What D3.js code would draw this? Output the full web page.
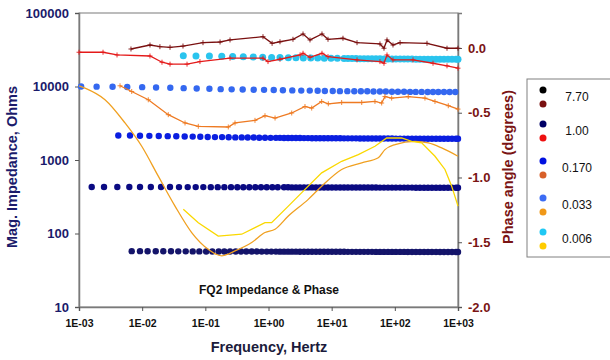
<!DOCTYPE html>
<html>
<head>
<meta charset="utf-8">
<script src="https://cdn.jsdelivr.net/npm/d3@7"></script>
<style>
  body { margin: 0; background: #fff; }
  text { font-family: Arial, "Liberation Sans", sans-serif; }
</style>
</head>
<body>
<div id="chart"></div>
<script>
// ---------------- data
var seriesNames = ["7.70", "1.00", "0.170", "0.033", "0.006"];

// magnitude (dots, left axis)
var freqMag770 = [0.00683, 0.00924, 0.0122, 0.0164, 0.0216, 0.0286, 0.0373, 0.0489, 0.0631, 0.0803, 0.103, 0.129, 0.163, 0.200, 0.246, 0.303, 0.367, 0.445, 0.542, 0.650, 0.780, 0.937, 1.11, 1.31,
  1.52, 1.76, 2.04, 2.35, 2.72, 3.15, 3.65, 4.22, 4.88, 5.65, 6.53, 7.56, 8.75, 10.1, 11.7, 13.6, 15.7, 18.1, 21.0, 24.3, 28.1, 32.5, 37.6, 43.5, 50.3, 58.2, 67.3, 78.0, 90.2, 104, 121, 140, 161, 187, 216, 250, 290, 335, 387, 449, 519, 600, 695, 804, 930, 1000];
var mag770 = [57.5, 57.5, 57.4, 57.4, 57.3, 57.3, 57.2, 57.2, 57.1, 57.1, 57.0, 57.0, 57.0, 56.9, 56.9, 56.9, 56.8, 56.8, 56.8, 56.8, 56.7, 56.7, 56.7, 56.7,
  56.6, 56.6, 56.6, 56.6, 56.6, 56.5, 56.5, 56.5, 56.5, 56.5, 56.5, 56.4, 56.4, 56.4, 56.4, 56.4, 56.4, 56.3, 56.3, 56.3, 56.3, 56.3, 56.3, 56.3, 56.2, 56.2, 56.2, 56.2, 56.2, 56.2, 56.2, 56.2, 56.1, 56.1, 56.1, 56.1, 56.1, 56.1, 56.1, 56.1, 56.0, 56.0, 56.0, 56.0, 56.0, 56.0];

var freqMag100 = [0.00159, 0.00249, 0.00404, 0.00626, 0.00924, 0.0137, 0.0199, 0.0276, 0.0383, 0.0526, 0.0704, 0.0929, 0.122, 0.157, 0.200, 0.255, 0.321, 0.399, 0.497, 0.618, 0.761, 0.937, 1.15, 1.40,
  1.76, 2.04, 2.35, 2.72, 3.15, 3.65, 4.22, 4.88, 5.65, 6.53, 7.56, 8.75, 10.1, 11.7, 13.6, 15.7, 18.1, 21.0, 24.3, 28.1, 32.5, 37.6, 43.5, 50.3, 58.2, 67.3, 78.0, 90.2, 104, 121, 140, 161, 187, 216, 250, 290, 335, 387, 449, 519, 600, 695, 804, 930, 1000];
var mag100 = [430, 430, 430, 430, 429, 429, 429, 429, 428, 428, 428, 428, 427, 427, 427, 427, 426, 426, 426, 426, 425, 425, 425, 425,
  425, 425, 424, 424, 424, 424, 424, 424, 423, 423, 423, 423, 423, 423, 423, 422, 422, 422, 422, 422, 422, 422, 422, 422, 421, 421, 421, 421, 421, 421, 421, 421, 421, 420, 420, 420, 420, 420, 420, 420, 420, 420, 420, 420, 420];

var freqMag170 = [0.00419, 0.00642, 0.00924, 0.0130, 0.0183, 0.0254, 0.0347, 0.0471, 0.0631, 0.0832, 0.109, 0.142, 0.184, 0.234, 0.298, 0.377, 0.469, 0.583, 0.715, 0.881, 1.08, 1.31,
  1.52, 1.76, 2.04, 2.35, 2.72, 3.15, 3.65, 4.22, 4.88, 5.65, 6.53, 7.56, 8.75, 10.1, 11.7, 13.6, 15.7, 18.1, 21.0, 24.3, 28.1, 32.5, 37.6, 43.5, 50.3, 58.2, 67.3, 78.0, 90.2, 104, 121, 140, 161, 187, 216, 250, 290, 335, 387, 449, 519, 600, 695, 804, 930, 1000];
var mag170 = [2150, 2150, 2140, 2130, 2120, 2110, 2100, 2090, 2080, 2070, 2060, 2050, 2050, 2040, 2030, 2030, 2020, 2020, 2010, 2010, 2000, 2000,
  2000, 1995, 1995, 1990, 1990, 1990, 1985, 1985, 1980, 1980, 1980, 1980, 1975, 1975, 1975, 1975, 1970, 1970, 1970, 1970, 1965, 1965, 1965, 1965, 1960, 1960, 1960, 1960, 1960, 1955, 1955, 1955, 1955, 1955, 1950, 1950, 1950, 1950, 1950, 1950, 1950, 1950, 1950, 1950, 1950, 1950];

var freqMag033 = [0.00108, 0.0019, 0.0034, 0.0058, 0.0100, 0.0166, 0.0279, 0.0454, 0.073, 0.116, 0.175, 0.261, 0.39, 0.583, 0.85, 1.21, 1.69, 2.38, 3.3, 4.5, 6.0, 7.8, 10.4, 13.5, 17.7, 22.8, 29, 36.6, 46, 58, 72, 90, 112, 140, 174, 214, 266, 331, 402, 488, 600, 738, 906];
var mag033 = [10000, 9950, 9900, 9850, 9800, 9700, 9600, 9500, 9400, 9300, 9200, 9150, 9100, 9050, 9000, 8950, 8900, 8850, 8800, 8800, 8750, 8700, 8700, 8650, 8650, 8600, 8600, 8600, 8550, 8550, 8550, 8500, 8500, 8500, 8450, 8450, 8450, 8400, 8400, 8400, 8400, 8400, 8400];

var freqMag006 = [0.0448, 0.0711, 0.116, 0.182, 0.271, 0.399, 0.574, 0.809, 1.12, 1.52, 2.06, 2.72, 3.56, 4.66, 6.01, 7.64, 9.76, 12.3,
  15.7, 18.1, 21.0, 24.3, 28.1, 32.5, 37.6, 43.5, 50.3, 58.2, 67.3, 78.0, 90.2, 104, 121, 140, 161, 187, 216, 250, 290, 335, 387, 449, 519, 600, 695, 804, 930, 1000];
var mag006 = [26200, 26000, 25900, 25700, 25500, 25400, 25200, 25000, 24900, 24800, 24700, 24600, 24500, 24400, 24400, 24300, 24200, 24200,
  24100, 24100, 24000, 24000, 23900, 23900, 23900, 23800, 23800, 23800, 23700, 23700, 23700, 23700, 23600, 23600, 23600, 23600, 23500, 23500, 23500, 23500, 23500, 23400, 23400, 23400, 23400, 23400, 23400, 23400];

// phase (lines, right axis)
var freqPh770 = [0.00665, 0.0133, 0.0191, 0.0276, 0.0443, 0.0918, 0.171, 0.246, 0.818, 1.14, 1.52, 2.44, 3.52, 4.54, 7.03, 8.75, 15.1, 25.2, 58.2, 67.3, 75.2, 93.5, 121, 323, 670, 1000];
var ph770 = [-0.008, 0.023, 0.010, 0.005, 0.015, 0.041, 0.046, 0.062, 0.087, 0.036, 0.048, 0.067, 0.108, 0.062, 0.108, 0.067, 0.075, 0.041, 0.031, -0.002, 0.062, 0.023, 0.041, 0.036, -0.002, -0.002];

var freqPh100 = [0.001, 0.0024, 0.0040, 0.0133, 0.0206, 0.0276, 0.0513, 0.0822, 0.246, 0.818, 0.982, 1.52, 3.16, 3.52, 4.54, 7.03, 8.75, 25.2, 58.2, 67.3, 75.2, 93.5, 194, 402, 670, 1000];
var ph100 = [-0.033, -0.033, -0.054, -0.062, -0.11, -0.125, -0.125, -0.105, -0.079, -0.079, -0.105, -0.087, -0.054, -0.041, -0.072, -0.041, -0.067, -0.092, -0.105, -0.118, -0.054, -0.092, -0.092, -0.118, -0.138, -0.156];

var freqPh170 = [0.00446, 0.00683, 0.0125, 0.0259, 0.0477, 0.0774, 0.231, 0.295, 0.611, 0.880, 1.27, 2.33, 3.78, 4.83, 6.95, 8.85, 14.4, 29.9, 48.5, 61.9, 69.8, 89.1, 163, 300, 432, 702, 1000];
var ph170 = [-0.292, -0.336, -0.4, -0.515, -0.579, -0.605, -0.61, -0.579, -0.559, -0.523, -0.541, -0.502, -0.452, -0.464, -0.413, -0.431, -0.421, -0.421, -0.413, -0.425, -0.375, -0.387, -0.375, -0.387, -0.413, -0.446, -0.472];

var freqPh033 = [0.001, 0.00124, 0.00258, 0.00535, 0.00984, 0.0180, 0.0331, 0.0608, 0.111, 0.182, 0.295, 0.542, 0.880, 1.27, 2.06, 4.26, 6.95, 14.4, 29.9, 54.7, 69.8, 101, 208, 339, 552, 1000];
var ph033 = [-0.292, -0.31, -0.4, -0.579, -0.759, -0.99, -1.221, -1.425, -1.554, -1.605, -1.567, -1.502, -1.425, -1.4, -1.298, -1.169, -1.067, -0.938, -0.887, -0.848, -0.785, -0.746, -0.721, -0.733, -0.772, -0.836];

var freqPh006 = [0.0448, 0.0774, 0.160, 0.377, 0.611, 0.880, 1.12, 2.06, 3.78, 6.95, 14.4, 26.4, 48.5, 74.3, 128, 185, 266, 432, 622, 794, 1000];
var ph006 = [-1.246, -1.349, -1.452, -1.438, -1.387, -1.349, -1.349, -1.221, -1.092, -0.964, -0.875, -0.823, -0.759, -0.695, -0.695, -0.721, -0.733, -0.836, -0.938, -1.067, -1.221];

// tick labels
var magTicks = [10, 100, 1000, 10000, 100000];
var phaseTicks = [0, -0.5, -1, -1.5, -2];
var freqTicks = [1e-3, 1e-2, 1e-1, 1e0, 1e1, 1e2, 1e3];

// ---------------- layout
var width = 610, height = 360;
var plot = { left: 79, right: 458, top: 13, bottom: 307 };

var svg = d3.select("#chart").append("svg")
  .attr("width", width)
  .attr("height", height);

var x = d3.scaleLog().domain([1e-3, 1e3]).range([plot.left, plot.right]);
var yMag = d3.scaleLog().domain([10, 100000]).range([plot.bottom, plot.top]);
var yPh = d3.scaleLinear().domain([-2, 0.27]).range([plot.bottom, plot.top]);

var navyText = "#1b1b6b";
var redText = "#7a1414";

// colours: dot colour / line colour per series
var dotColors = ["#14146a", "#0a0a82", "#0a1ee0", "#3468f0", "#2ac4ee"];
var lineColors = ["#7a1010", "#e41a1a", "#ee7a22", "#f0a020", "#fad800"];
var legendDot = ["#000000", "#000066", "#0010e0", "#3c6cf4", "#20c8f4"];
var legendLine = ["#7a1010", "#ee1010", "#d8602a", "#f09818", "#ffcc00"];

// plot frame
svg.append("rect")
  .attr("x", plot.left).attr("y", plot.top)
  .attr("width", plot.right - plot.left).attr("height", plot.bottom - plot.top)
  .attr("fill", "none").attr("stroke", "#7a7a7a").attr("stroke-width", 1);

// ---------------- axes
var leftAxis = svg.append("g")
  .attr("transform", `translate(${plot.left},0)`)
  .call(d3.axisLeft(yMag).tickValues(magTicks).tickFormat(d3.format("d")).tickSize(4).tickPadding(6));
leftAxis.selectAll("text").attr("fill", navyText).style("font-size", "13px").style("font-weight", "bold");

var rightAxis = svg.append("g")
  .attr("transform", `translate(${plot.right},0)`)
  .call(d3.axisRight(yPh).tickValues(phaseTicks).tickFormat(d => d.toFixed(1)).tickSize(4).tickPadding(6));
rightAxis.selectAll("text").attr("fill", redText).style("font-size", "13px").style("font-weight", "bold");

var bottomAxis = svg.append("g")
  .attr("transform", `translate(0,${plot.bottom})`)
  .call(d3.axisBottom(x).tickValues(freqTicks).tickFormat(function(d) {
    var e = Math.round(Math.log10(d));
    return "1E" + (e < 0 ? "-" : "+") + String(Math.abs(e)).padStart(2, "0");
  }).tickSize(4).tickPadding(9));
bottomAxis.selectAll("text").attr("fill", "#111").style("font-size", "10.5px").style("font-weight", "bold");

[leftAxis, rightAxis, bottomAxis].forEach(function(a) {
  a.select(".domain").attr("stroke", "#7a7a7a").attr("stroke-width", 1.5);
  a.selectAll(".tick line").attr("stroke", "#555");
});

// ---------------- magnitude dots
var magSeries = [
  { f: freqMag770, v: mag770 },
  { f: freqMag100, v: mag100 },
  { f: freqMag170, v: mag170 },
  { f: freqMag033, v: mag033 },
  { f: freqMag006, v: mag006 }
];
magSeries.forEach(function(s, i) {
  svg.append("g").selectAll("circle")
    .data(s.f.map((f, k) => [f, s.v[k]]))
    .enter().append("circle")
    .attr("cx", d => x(d[0]))
    .attr("cy", d => yMag(d[1]))
    .attr("r", i == 4 ? 3.5 : 3.2)
    .attr("fill", dotColors[i]);
});

// ---------------- phase lines
var phSeries = [
  { f: freqPh770, v: ph770, marks: true, curve: d3.curveLinear },
  { f: freqPh100, v: ph100, marks: true, curve: d3.curveLinear },
  { f: freqPh170, v: ph170, marks: true, curve: d3.curveLinear },
  { f: freqPh033, v: ph033, marks: false, curve: d3.curveMonotoneX },
  { f: freqPh006, v: ph006, marks: false, curve: d3.curveLinear }
];
phSeries.forEach(function(s, i) {
  var pts = s.f.map((f, k) => [x(f), yPh(s.v[k])]);
  svg.append("path")
    .attr("d", d3.line().curve(s.curve)(pts))
    .attr("fill", "none")
    .attr("stroke", lineColors[i])
    .attr("stroke-width", 1.3);
  if (s.marks) {
    svg.append("g").selectAll("path")
      .data(pts).enter().append("path")
      .attr("d", d => `M${d[0] - 2.5},${d[1]}h5M${d[0]},${d[1] - 2.5}v5`)
      .attr("stroke", lineColors[i])
      .attr("stroke-width", 0.9);
  }
});

// ---------------- titles
svg.append("text")
  .attr("x", 269).attr("y", 294)
  .attr("text-anchor", "middle")
  .style("font-size", "12px").style("font-weight", "bold").attr("fill", "#111")
  .text("FQ2 Impedance & Phase");

svg.append("text")
  .attr("x", 269).attr("y", 352)
  .attr("text-anchor", "middle")
  .style("font-size", "14.5px").style("font-weight", "bold").attr("fill", "#1b1b3b")
  .text("Frequency, Hertz");

svg.append("text")
  .attr("transform", "translate(17,167) rotate(-90)")
  .attr("text-anchor", "middle")
  .style("font-size", "14.5px").style("font-weight", "bold").attr("fill", navyText)
  .text("Mag. Impedance, Ohms");

svg.append("text")
  .attr("transform", "translate(513,167) rotate(-90)")
  .attr("text-anchor", "middle")
  .style("font-size", "14.5px").style("font-weight", "bold").attr("fill", redText)
  .text("Phase angle (degrees)");

// ---------------- legend
var legend = svg.append("g");
legend.append("rect")
  .attr("x", 527).attr("y", 79).attr("width", 100).attr("height", 178)
  .attr("fill", "#fff").attr("stroke", "#808080");

var legendY = [90, 124, 161, 198, 232];
seriesNames.forEach(function(name, i) {
  legend.append("circle").attr("cx", 543).attr("cy", legendY[i]).attr("r", 3.5).attr("fill", legendDot[i]);
  legend.append("circle").attr("cx", 543).attr("cy", legendY[i] + 14).attr("r", 3.5).attr("fill", legendLine[i]);
  legend.append("text")
    .attr("x", 577).attr("y", legendY[i] + 11)
    .attr("text-anchor", "middle")
    .style("font-size", "12px").attr("fill", "#111")
    .text(name);
});
</script>
</body>
</html>
